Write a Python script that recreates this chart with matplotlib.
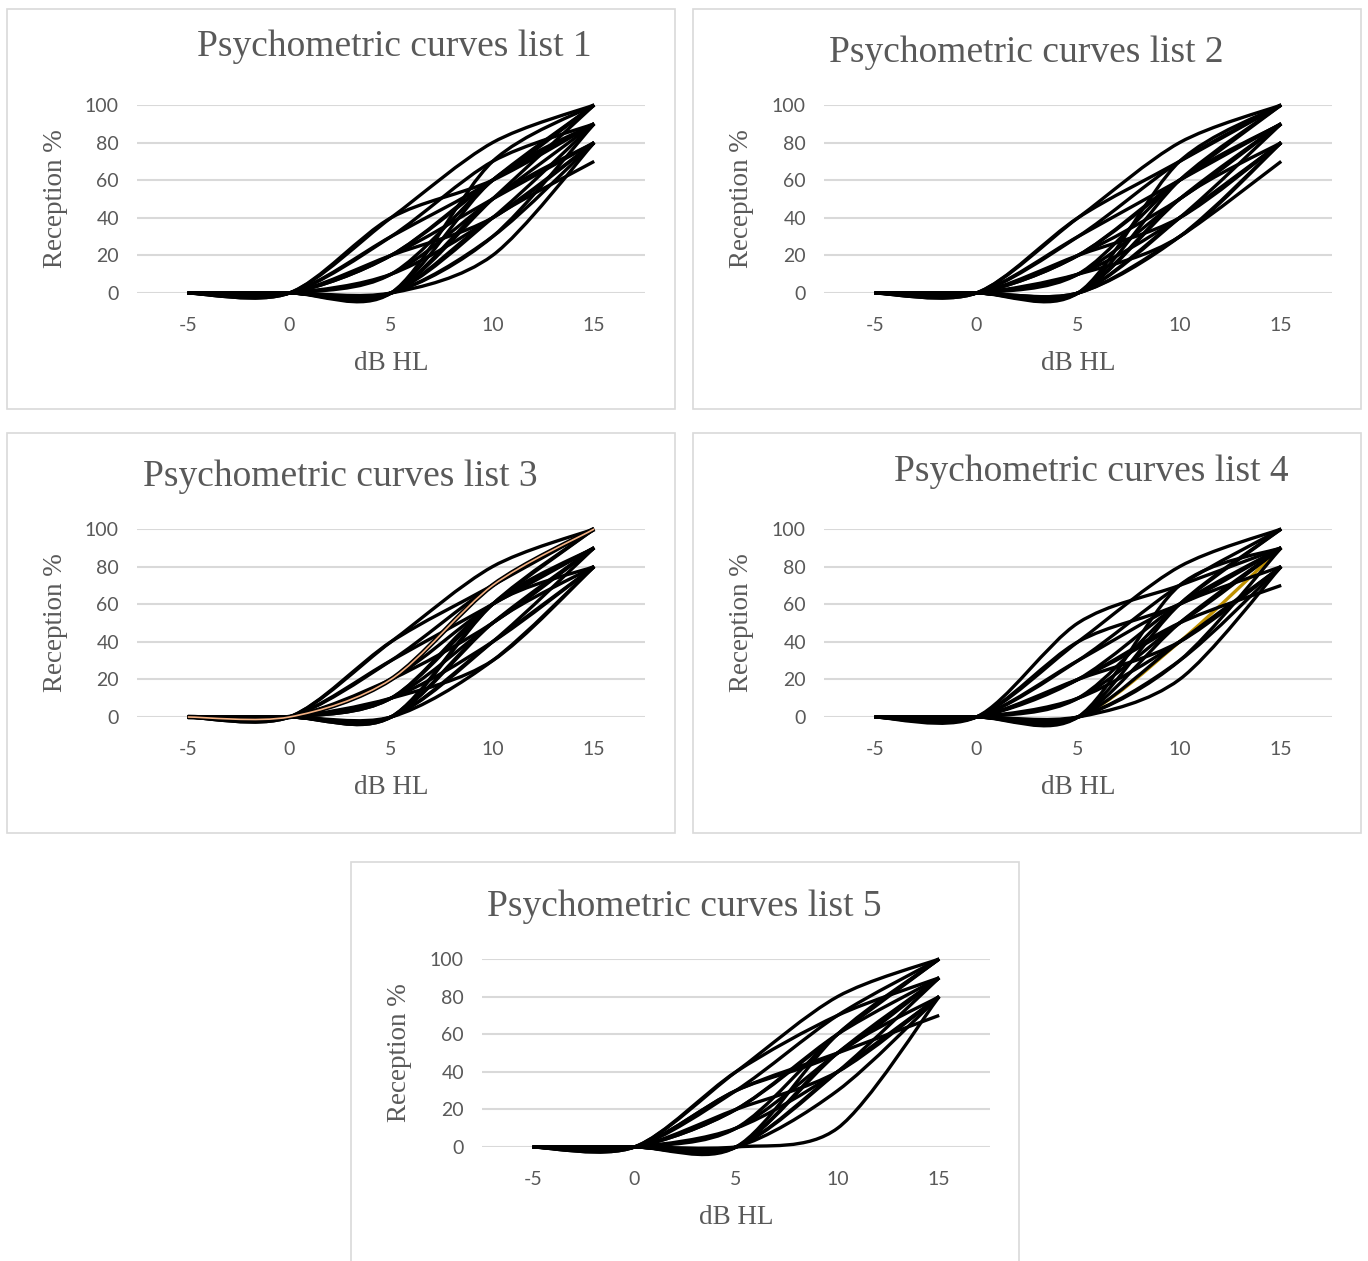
import matplotlib.pyplot as plt
from matplotlib.path import Path
from matplotlib.patches import PathPatch, Rectangle

plt.rcParams["axes.unicode_minus"] = False

# hearing level (dB HL) points of each curve
x_db = [-5, 0, 5, 10, 15]

# reception % per participant
list1 = [
    [0, 0, 40, 80, 100],
    [0, 0, 40, 60, 90],
    [0, 0, 30, 60, 100],
    [0, 0, 30, 70, 90],
    [0, 0, 20, 60, 90],
    [0, 0, 20, 50, 80],
    [0, 0, 20, 60, 100],
    [0, 0, 20, 40, 80],
    [0, 0, 10, 50, 90],
    [0, 0, 10, 40, 80],
    [0, 0, 10, 60, 100],
    [0, 0, 0, 70, 100],
    [0, 0, 0, 60, 90],
    [0, 0, 0, 50, 100],
    [0, 0, 0, 50, 80],
    [0, 0, 0, 40, 90],
    [0, 0, 0, 30, 80],
    [0, 0, 0, 40, 70],
    [0, 0, 0, 20, 80],
    [0, 0, 0, 30, 90],
]
list2 = [
    [0, 0, 40, 80, 100],
    [0, 0, 40, 70, 100],
    [0, 0, 30, 60, 90],
    [0, 0, 30, 70, 100],
    [0, 0, 20, 60, 90],
    [0, 0, 20, 50, 90],
    [0, 0, 20, 40, 80],
    [0, 0, 20, 60, 100],
    [0, 0, 10, 50, 90],
    [0, 0, 10, 40, 80],
    [0, 0, 10, 60, 90],
    [0, 0, 0, 70, 100],
    [0, 0, 0, 60, 100],
    [0, 0, 0, 50, 90],
    [0, 0, 0, 40, 80],
    [0, 0, 0, 40, 90],
    [0, 0, 0, 30, 80],
    [0, 0, 0, 30, 70],
    [0, 0, 0, 50, 80],
    [0, 0, 10, 30, 80],
]
list3 = [
    [0, 0, 40, 80, 100],
    [0, 0, 40, 70, 100],
    [0, 0, 30, 70, 100],
    [0, 0, 30, 60, 90],
    [0, 0, 20, 70, 100],
    [0, 0, 20, 60, 90],
    [0, 0, 20, 50, 90],
    [0, 0, 10, 50, 90],
    [0, 0, 10, 40, 80],
    [0, 0, 10, 60, 80],
    [0, 0, 10, 30, 80],
    [0, 0, 0, 60, 100],
    [0, 0, 0, 50, 90],
    [0, 0, 0, 40, 80],
    [0, 0, 0, 40, 90],
    [0, 0, 0, 30, 80],
    [0, 0, 0, 50, 80],
    [0, 0, 0, 60, 90],
    [0, 0, 10, 60, 100],
]
list3_orange = [0, 0, 20, 70, 100]
list4 = [
    [0, 0, 50, 70, 90],
    [0, 0, 40, 80, 100],
    [0, 0, 40, 60, 90],
    [0, 0, 30, 70, 100],
    [0, 0, 30, 60, 80],
    [0, 0, 20, 60, 90],
    [0, 0, 20, 50, 90],
    [0, 0, 20, 50, 70],
    [0, 0, 10, 40, 80],
    [0, 0, 10, 50, 90],
    [0, 0, 10, 60, 100],
    [0, 0, 20, 40, 80],
    [0, 0, 0, 60, 100],
    [0, 0, 0, 70, 90],
    [0, 0, 0, 50, 90],
    [0, 0, 0, 40, 80],
    [0, 0, 0, 30, 90],
    [0, 0, 0, 30, 80],
    [0, 0, 0, 20, 80],
]
list4_gold = [0, 0, 0, 40, 90]
list5 = [
    [0, 0, 40, 80, 100],
    [0, 0, 40, 70, 90],
    [0, 0, 30, 70, 100],
    [0, 0, 30, 50, 90],
    [0, 0, 30, 50, 70],
    [0, 0, 20, 60, 90],
    [0, 0, 20, 60, 100],
    [0, 0, 20, 40, 80],
    [0, 0, 10, 50, 90],
    [0, 0, 10, 40, 80],
    [0, 0, 10, 60, 100],
    [0, 0, 0, 60, 100],
    [0, 0, 0, 50, 90],
    [0, 0, 0, 40, 90],
    [0, 0, 0, 40, 80],
    [0, 0, 0, 30, 80],
    [0, 0, 0, 50, 80],
    [0, 0, 0, 10, 80],
]

titles = ["Psychometric curves list 1", "Psychometric curves list 2",
          "Psychometric curves list 3", "Psychometric curves list 4",
          "Psychometric curves list 5"]

W, H = 1368, 1261
GRAY = "#595959"
GRID = "#D9D9D9"
TENSION = 0.15


def smooth_path(xs, ys):
    # smoothed line like a spreadsheet "smooth line": cubic Bezier segments
    pts = list(zip(xs, ys))
    n = len(pts)
    verts = [pts[0]]
    codes = [Path.MOVETO]
    for i in range(n - 1):
        p0 = pts[max(i - 1, 0)]
        p1 = pts[i]
        p2 = pts[i + 1]
        p3 = pts[min(i + 2, n - 1)]
        c1 = (p1[0] + (p2[0] - p0[0]) * TENSION, p1[1] + (p2[1] - p0[1]) * TENSION)
        c2 = (p2[0] - (p3[0] - p1[0]) * TENSION, p2[1] - (p3[1] - p1[1]) * TENSION)
        verts += [c1, c2, p2]
        codes += [Path.CURVE4] * 3
    return Path(verts, codes)


def fx(px):
    return px / W


def fy(py):
    return 1 - py / H


fig = plt.figure(figsize=(W / 100, H / 100), dpi=100)

# (box left, box top, axes left, axes top, title x, title y)
panels = [
    (7, 9, 137, 105, 394, 47),
    (693, 9, 824, 105, 1026, 53),
    (7, 433, 137, 529, 340, 477),
    (693, 433, 824, 529, 1091, 472),
    (351, 862, 482, 959, 684, 907),
]
data = [list1, list2, list3, list4, list5]
AW, AH = 508, 188

for k, (bx, by, ax_l, ax_t, tx, ty) in enumerate(panels):
    bh = 400 if k < 4 else 420
    fig.add_artist(Rectangle((fx(bx), fy(by + bh)), 668 / W, bh / H,
                             transform=fig.transFigure, fill=False,
                             ec=GRID, lw=1.2))
    ax = fig.add_axes([fx(ax_l), fy(ax_t + AH), AW / W, AH / H])
    ax.set_xlim(-7.5, 17.5)
    ax.set_ylim(0, 100)
    ax.set_xticks([-5, 0, 5, 10, 15])
    ax.set_yticks([0, 20, 40, 60, 80, 100])
    ax.grid(axis="y", color=GRID, lw=1.5)
    ax.set_axisbelow(True)
    for s in ax.spines.values():
        s.set_visible(False)
    ax.tick_params(axis="y", length=0, pad=13, labelsize=14, labelcolor=GRAY)
    ax.tick_params(axis="x", length=0, pad=17, labelsize=14, labelcolor=GRAY)
    for lab in ax.get_xticklabels() + ax.get_yticklabels():
        lab.set_family("Lato")

    # gold series of list 4 sits mostly under the black ones
    if k == 3:
        ax.add_patch(PathPatch(smooth_path(x_db, list4_gold), fill=False,
                               ec="#BF9000", lw=2.4, clip_on=False))
    for row in data[k]:
        ax.add_patch(PathPatch(smooth_path(x_db, row), fill=False,
                               ec="black", lw=2.4, clip_on=False))
    # orange series of list 3 shows as a thin line inside black ones
    if k == 2:
        ax.add_patch(PathPatch(smooth_path(x_db, list3_orange), fill=False,
                               ec="black", lw=3.4, clip_on=False))
        ax.add_patch(PathPatch(smooth_path(x_db, list3_orange), fill=False,
                               ec="#F4B183", lw=1.2, clip_on=False))

    fig.text(fx(tx), fy(ty), titles[k], ha="center", va="center",
             family="Liberation Serif", fontsize=27, color=GRAY)
    fig.text(fx(ax_l - 82), fy(ax_t + AH / 2), "Reception %", rotation=90,
             ha="center", va="center", family="Liberation Serif",
             fontsize=19.5, color=GRAY)
    fig.text(fx(ax_l + AW / 2), fy(ax_t + AH + 71), "dB HL",
             ha="center", va="center", family="Liberation Serif",
             fontsize=19.5, color=GRAY)

fig.savefig("out.png", dpi=100)
